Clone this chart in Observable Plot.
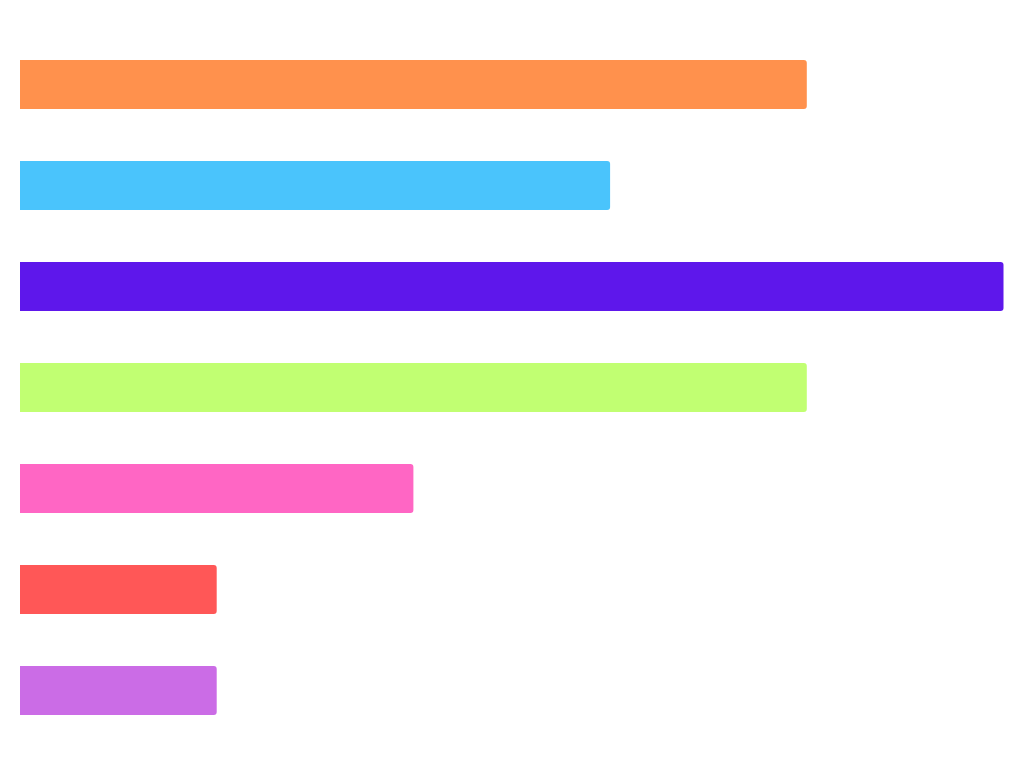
<!DOCTYPE html>
<html>
<head>
<meta charset="utf-8">
<script src="https://cdn.jsdelivr.net/npm/d3@7"></script>
<script src="https://cdn.jsdelivr.net/npm/@observablehq/plot@0.6"></script>
<style>
  html, body { margin: 0; padding: 0; background: #ffffff; }
  #chart svg { display: block; }
</style>
</head>
<body>
<div id="chart"></div>
<script>
const categories = ["A", "B", "C", "D", "E", "F", "G"];
const values = [4, 3, 5, 4, 2, 1, 1];
const colors = ["#FF914D", "#4AC4FC", "#5E17EB", "#C1FF72", "#FF66C4", "#FF5757", "#CB6CE6"];

const data = categories.map((c, i) => ({category: c, value: values[i]}));

const chart = Plot.plot({
  width: 1024,
  height: 768,
  marginLeft: 20,
  marginRight: 20.5,
  marginTop: 7.5,
  marginBottom: 0,
  x: {domain: [0, 5], axis: null},
  y: {domain: categories, padding: 0.51, axis: null},
  color: {domain: categories, range: colors},
  marks: [
    Plot.barX(data, {x: "value", y: "category", fill: "category", rx2: 3})
  ]
});
document.getElementById("chart").appendChild(chart);
</script>
</body>
</html>
